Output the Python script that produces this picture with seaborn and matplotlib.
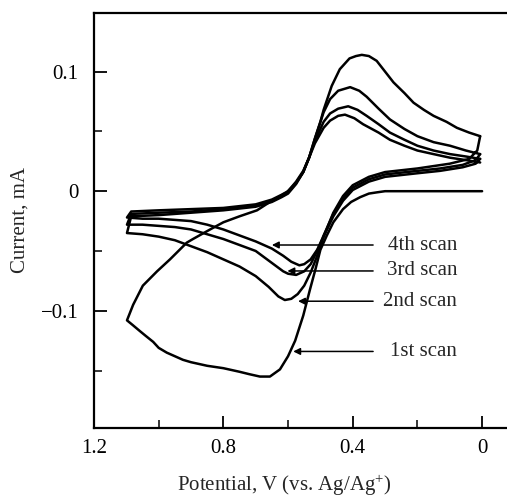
import matplotlib
matplotlib.use("Agg")
import matplotlib.pyplot as plt
import seaborn as sns
import pandas as pd

# --- data (potential in V, current in mA) ---
# scan 1
v1_fwd = [0.0, 0.10, 0.20, 0.30, 0.326, 0.35, 0.377, 0.405, 0.43, 0.46, 0.48, 0.50, 0.515, 0.532,
          0.553, 0.578, 0.60, 0.625, 0.656, 0.687, 0.72, 0.75, 0.80, 0.85, 0.90, 0.925, 0.95, 0.975,
          1.0, 1.017, 1.04, 1.058, 1.08, 1.098]
i1_fwd = [0.0, 0.0, 0.0, 0.0, -0.001, -0.002, -0.005, -0.009, -0.015, -0.026, -0.037, -0.049, -0.065,
          -0.082, -0.104, -0.125, -0.138, -0.149, -0.155, -0.155, -0.153, -0.151, -0.148, -0.146,
          -0.143, -0.141, -0.138, -0.135, -0.131, -0.126, -0.121, -0.117, -0.112, -0.108]
v1_rev = [1.098, 1.079, 1.049, 1.005, 0.965, 0.913, 0.894, 0.841, 0.80, 0.75, 0.696, 0.656, 0.604,
          0.575, 0.553, 0.535, 0.517, 0.50, 0.49, 0.465, 0.44, 0.41, 0.39, 0.372, 0.35, 0.326, 0.30,
          0.274, 0.24, 0.212, 0.18, 0.15, 0.11, 0.078, 0.04, 0.006]
i1_rev = [-0.108, -0.095, -0.079, -0.067, -0.057, -0.043, -0.040, -0.032, -0.026, -0.021, -0.016,
          -0.009, -0.001, 0.007, 0.016, 0.028, 0.044, 0.058, 0.068, 0.088, 0.102, 0.111, 0.113, 0.114,
          0.113, 0.109, 0.100, 0.091, 0.082, 0.074, 0.068, 0.063, 0.058, 0.053, 0.049, 0.046]

# scan 2
v2_fwd = [0.006, 0.015, 0.04, 0.10, 0.20, 0.30, 0.35, 0.40, 0.43, 0.46, 0.49, 0.51, 0.53, 0.55, 0.57,
          0.59, 0.61, 0.63, 0.66, 0.70, 0.75, 0.80, 0.85, 0.90, 0.95, 1.00, 1.05, 1.098]
i2_fwd = [0.046, 0.034, 0.027, 0.023, 0.019, 0.016, 0.012, 0.005, -0.004, -0.018, -0.038, -0.054,
          -0.068, -0.079, -0.086, -0.090, -0.091, -0.088, -0.080, -0.071, -0.063, -0.057, -0.051,
          -0.046, -0.041, -0.038, -0.036, -0.035]
v2_rev = [1.098, 1.085, 1.0, 0.9, 0.8, 0.7, 0.65, 0.62, 0.60, 0.575, 0.553, 0.535, 0.517, 0.49, 0.47,
          0.445, 0.408, 0.38, 0.357, 0.32, 0.285, 0.24, 0.20, 0.15, 0.099, 0.05, 0.006]
i2_rev = [-0.035, -0.021, -0.020, -0.018, -0.016, -0.013, -0.009, -0.005, -0.002, 0.006, 0.016, 0.028,
          0.044, 0.066, 0.077, 0.084, 0.087, 0.084, 0.079, 0.069, 0.060, 0.052, 0.046, 0.041, 0.038,
          0.034, 0.031]

# scan 3
v3_fwd = [0.006, 0.02, 0.06, 0.13, 0.20, 0.30, 0.35, 0.40, 0.43, 0.46, 0.49, 0.51, 0.53, 0.55, 0.575,
          0.60, 0.615, 0.65, 0.70, 0.75, 0.80, 0.85, 0.90, 0.95, 1.0, 1.05, 1.098]
i3_fwd = [0.031, 0.026, 0.022, 0.019, 0.017, 0.014, 0.010, 0.003, -0.006, -0.019, -0.037, -0.050,
          -0.061, -0.067, -0.070, -0.069, -0.067, -0.060, -0.050, -0.045, -0.040, -0.036, -0.032,
          -0.030, -0.029, -0.028, -0.028]
v3_rev = [1.098, 1.085, 1.0, 0.9, 0.8, 0.7, 0.65, 0.62, 0.60, 0.575, 0.553, 0.535, 0.517, 0.49, 0.47,
          0.445, 0.414, 0.385, 0.357, 0.32, 0.285, 0.24, 0.20, 0.15, 0.099, 0.05, 0.006]
i3_rev = [-0.028, -0.019, -0.018, -0.017, -0.015, -0.012, -0.008, -0.004, -0.001, 0.007, 0.016, 0.028,
          0.042, 0.058, 0.065, 0.069, 0.071, 0.068, 0.063, 0.056, 0.049, 0.043, 0.038, 0.034, 0.031,
          0.029, 0.027]

# scan 4
v4_fwd = [0.006, 0.02, 0.06, 0.13, 0.20, 0.30, 0.35, 0.40, 0.43, 0.46, 0.49, 0.51, 0.53, 0.55, 0.565,
          0.59, 0.615, 0.65, 0.70, 0.75, 0.80, 0.85, 0.90, 0.95, 1.0, 1.05, 1.098]
i4_fwd = [0.027, 0.023, 0.020, 0.017, 0.015, 0.012, 0.008, 0.001, -0.008, -0.021, -0.038, -0.049,
          -0.057, -0.061, -0.062, -0.059, -0.054, -0.048, -0.042, -0.037, -0.032, -0.028, -0.025,
          -0.024, -0.023, -0.023, -0.022]
v4_rev = [1.098, 1.085, 1.0, 0.9, 0.8, 0.7, 0.65, 0.62, 0.60, 0.575, 0.553, 0.535, 0.517, 0.49, 0.47,
          0.445, 0.424, 0.395, 0.368, 0.32, 0.285, 0.24, 0.20, 0.15, 0.099, 0.05, 0.006]
i4_rev = [-0.022, -0.017, -0.016, -0.015, -0.014, -0.011, -0.007, -0.003, 0.0, 0.008, 0.017, 0.028,
          0.040, 0.053, 0.059, 0.063, 0.064, 0.061, 0.056, 0.049, 0.043, 0.038, 0.034, 0.031, 0.028,
          0.026, 0.024]

scan_labels = ["1st scan", "2nd scan", "3rd scan", "4th scan"]
arrow_tips_v = [0.584, 0.569, 0.602, 0.650]
arrow_tips_i = [-0.134, -0.092, -0.0667, -0.045]

scans = [(v1_fwd + v1_rev, i1_fwd + i1_rev),
         (v2_fwd + v2_rev, i2_fwd + i2_rev),
         (v3_fwd + v3_rev, i3_fwd + i3_rev),
         (v4_fwd + v4_rev, i4_fwd + i4_rev)]

rows = []
for k, (vs, cs) in enumerate(scans):
    for step, (v, c) in enumerate(zip(vs, cs)):
        rows.append({"scan": k + 1, "step": step, "V": v, "I": c})
df = pd.DataFrame(rows)

# --- style ---
sns.set_style("ticks")
plt.rcParams["font.family"] = ["Liberation Serif", "DejaVu Serif"]
plt.rcParams["mathtext.fontset"] = "custom"
plt.rcParams["mathtext.rm"] = "Liberation Serif"
plt.rcParams["mathtext.it"] = "Liberation Serif:italic"

fig = plt.figure(figsize=(5.07, 4.98), dpi=100)
ax = fig.add_axes([0.1854, 0.1406, 0.8146, 0.8333])

for k in range(1, 5):
    sns.lineplot(data=df[df["scan"] == k], x="V", y="I", sort=False, estimator=None,
                 color="black", lw=1.8, ax=ax)

ax.set_xlim(1.2, -0.077)
ax.set_ylim(-0.198, 0.149)

ax.set_xticks([1.2, 0.8, 0.4, 0.0], labels=["1.2", "0.8", "0.4", "0"])
ax.set_xticks([1.0, 0.6, 0.2], minor=True)
ax.set_yticks([-0.1, 0.0, 0.1], labels=["\u22120.1", "0", "0.1"])
ax.set_yticks([-0.15, -0.05, 0.05], minor=True)
ax.tick_params(which="major", direction="in", length=9, width=1.3, labelsize=15, colors="black")
ax.tick_params(which="minor", direction="in", length=5.5, width=1.3)
ax.tick_params(axis="x", pad=8)
ax.tick_params(axis="y", pad=11)

for side in ["left", "bottom", "top"]:
    ax.spines[side].set_linewidth(1.6)
    ax.spines[side].set_color("black")
ax.spines["right"].set_visible(False)

ax.set_xlabel("Potential, V (vs. Ag/Ag$^{+}$)", fontsize=15)
ax.set_ylabel("Current, mA", fontsize=15)
ax.xaxis.set_label_coords(0.462, -0.108)
ax.yaxis.set_label_coords(-0.157, 0.5)

# scan labels with arrows
for lab, tv, ti in zip(scan_labels, arrow_tips_v, arrow_tips_i):
    ax.annotate("", xy=(tv, ti), xytext=(0.337, ti),
                arrowprops=dict(arrowstyle="-|>", lw=1.1, color="black",
                                mutation_scale=10, shrinkA=0, shrinkB=0))
    ax.text(0.077, ti, lab, ha="right", va="center", fontsize=15)

plt.savefig("out.png", dpi=100)
